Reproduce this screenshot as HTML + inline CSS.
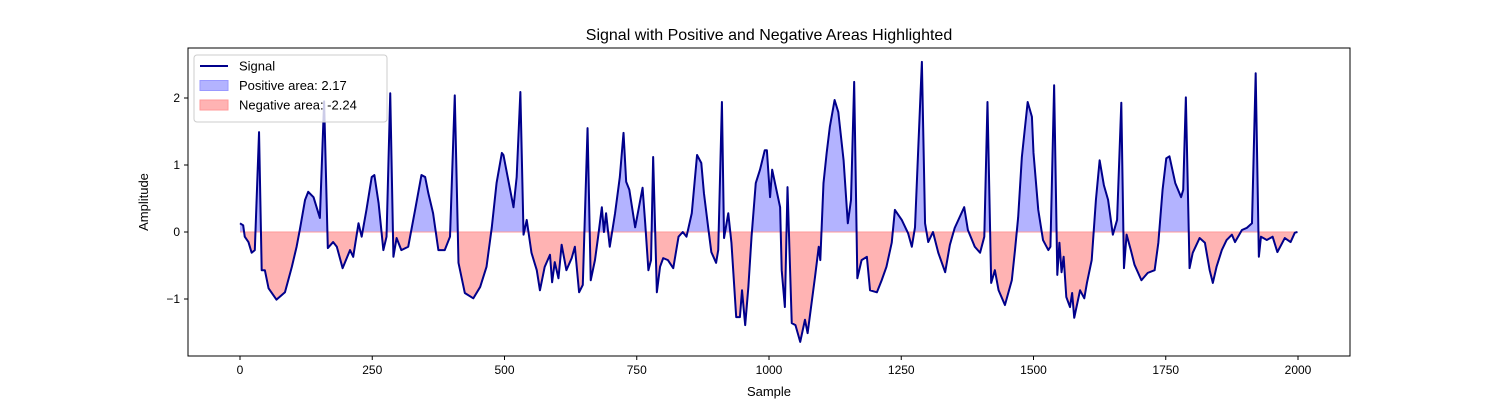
<!DOCTYPE html>
<html><head><meta charset="utf-8"><style>
body{margin:0;background:#fff;}
svg text{font-family:"Liberation Sans","DejaVu Sans",sans-serif;fill:#000;}
</style></head><body>
<svg id="chart" width="1500" height="400" xmlns="http://www.w3.org/2000/svg">
<rect width="1500" height="400" fill="#fff"/>
<defs>
<clipPath id="clipPos"><rect x="188" y="48" width="1162" height="184"/></clipPath>
<clipPath id="clipNeg"><rect x="188" y="232" width="1162" height="124"/></clipPath>
</defs>
<g id="fills"></g>
<g id="line"></g>
<g id="axes"></g>
</svg>
<script>
const sampleIdx=[0,6,9,16,22,28,36,41,47,54,69,85,98,107,113,123,129,139,151,159,166,176,183,194,208,214,224,230,239,249,254,262,271,277,284,290,296,305,318,331,343,350,356,365,375,387,397,406,413,425,441,454,466,476,485,495,498,507,517,523,530,536,542,551,561,567,576,586,590,595,602,608,617,627,633,641,648,657,663,671,677,684,688,692,699,709,718,725,730,736,747,761,766,772,777,781,788,794,800,809,819,829,837,844,854,864,872,877,885,891,900,904,911,915,923,929,938,945,949,955,961,967,975,983,992,996,1002,1006,1014,1021,1024,1030,1035,1043,1050,1059,1068,1073,1087,1094,1097,1103,1109,1115,1124,1131,1141,1149,1155,1161,1167,1175,1185,1191,1204,1213,1222,1232,1238,1251,1263,1270,1276,1282,1289,1295,1301,1310,1320,1333,1342,1351,1369,1376,1389,1399,1407,1413,1420,1427,1434,1446,1459,1465,1471,1478,1484,1489,1497,1500,1509,1518,1528,1532,1539,1545,1549,1553,1557,1562,1569,1573,1577,1588,1596,1601,1610,1618,1625,1633,1641,1650,1658,1666,1671,1676,1684,1691,1704,1716,1729,1736,1744,1751,1757,1768,1779,1783,1788,1795,1801,1814,1824,1833,1839,1846,1856,1865,1875,1881,1894,1903,1913,1920,1926,1930,1941,1952,1961,1975,1986,1994,1999];
const signalVals=[0.13,0.1,-0.07,-0.15,-0.31,-0.27,1.49,-0.57,-0.57,-0.84,-1.01,-0.9,-0.52,-0.22,0.03,0.48,0.6,0.52,0.21,1.95,-0.24,-0.15,-0.22,-0.54,-0.27,-0.37,0.13,-0.07,0.33,0.82,0.85,0.43,-0.27,-0.07,2.07,-0.37,-0.09,-0.27,-0.22,0.33,0.85,0.82,0.58,0.28,-0.27,-0.27,-0.07,2.04,-0.46,-0.91,-0.99,-0.82,-0.52,0.07,0.73,1.18,1.15,0.78,0.37,0.82,2.09,-0.04,0.18,-0.31,-0.57,-0.87,-0.52,-0.34,-0.75,-0.45,-0.69,-0.19,-0.57,-0.39,-0.22,-0.9,-0.79,1.55,-0.72,-0.42,-0.07,0.37,0,0.28,-0.22,0.28,0.82,1.48,0.75,0.63,0.07,0.66,0.13,-0.57,-0.42,1.12,-0.9,-0.52,-0.39,-0.42,-0.54,-0.07,0,-0.07,0.28,1.15,1.03,0.58,0.07,-0.3,-0.46,-0.27,1.94,-0.09,0.28,-0.16,-1.27,-1.27,-0.87,-1.39,-0.82,-0.07,0.73,0.93,1.22,1.22,0.52,0.93,0.63,0.37,-0.57,-1.12,0.67,-1.36,-1.39,-1.64,-1.31,-1.51,-0.67,-0.22,-0.42,0.73,1.18,1.57,1.97,1.79,1.07,0.13,0.48,2.24,-0.69,-0.42,-0.37,-0.87,-0.9,-0.72,-0.52,-0.16,0.33,0.18,-0.02,-0.22,0.07,1.22,2.54,0.13,-0.15,0,-0.31,-0.6,-0.19,0.06,0.37,0.03,-0.22,-0.31,-0.07,1.94,-0.76,-0.57,-0.87,-1.09,-0.72,-0.27,0.22,1.12,1.57,1.94,1.72,1.18,0.33,-0.12,-0.27,-0.22,2.19,-0.64,-0.16,-0.6,-0.37,-0.97,-1.12,-0.91,-1.28,-0.87,-0.99,-0.76,-0.42,0.48,1.07,0.7,0.48,-0.04,0.18,1.93,-0.54,-0.04,-0.27,-0.49,-0.72,-0.61,-0.57,-0.16,0.63,1.1,1.13,0.73,0.52,0.63,2.01,-0.54,-0.31,-0.09,-0.16,-0.57,-0.76,-0.52,-0.27,-0.12,-0.04,-0.15,0.03,0.06,0.13,2.37,-0.37,-0.07,-0.12,-0.07,-0.3,-0.09,-0.15,-0.01,0.0];
const xTicks=[0,250,500,750,1000,1250,1500,1750,2000];
const yTicks=[-1,0,1,2];
const legendLabels=["Signal","Positive area: 2.17","Negative area: -2.24"];

const NS="http://www.w3.org/2000/svg";
const X0=188,X1=1350,Y0=48,Y1=356;
const xs=s=>240+(s-0)*(1298-240)/2000;
const ys=v=>232-v*67;
function mk(tag,attrs,parent){const e=document.createElementNS(NS,tag);for(const k in attrs)e.setAttribute(k,attrs[k]);parent.appendChild(e);return e;}
const fills=document.getElementById('fills'),lineG=document.getElementById('line'),axes=document.getElementById('axes');
let pts=sampleIdx.map((s,i)=>xs(s).toFixed(2)+","+ys(signalVals[i]).toFixed(2));
let poly="M"+xs(sampleIdx[0])+","+ys(0)+" L"+pts.join(" L")+" L"+xs(sampleIdx[sampleIdx.length-1])+","+ys(0)+"Z";
const pos=mk('path',{d:poly,fill:'#b3b3ff','clip-path':'url(#clipPos)'},fills);


const neg=mk('path',{d:poly,fill:'#ffb3b3','clip-path':'url(#clipNeg)'},fills);


const zl=mk('line',{x1:xs(0),x2:xs(1999),y1:ys(0),y2:ys(0),stroke:'#ff9999','stroke-width':1},fills);


const sig=mk('polyline',{points:pts.join(" "),fill:'none',stroke:'#00008b','stroke-width':2,'stroke-linejoin':'round'},lineG);


const frame=mk('rect',{x:X0,y:Y0,width:X1-X0,height:Y1-Y0,fill:'none',stroke:'#000','stroke-width':1},axes);


xTicks.forEach(t=>{const x=xs(t);
 mk('line',{x1:x,x2:x,y1:Y1,y2:Y1+4,stroke:'#000'},axes);
 const tx=mk('text',{x:x,y:Y1+18,'text-anchor':'middle','font-size':12},axes);tx.textContent=t;
 
 });
yTicks.forEach(t=>{const y=ys(t);
 mk('line',{x1:X0-4,x2:X0,y1:y,y2:y,stroke:'#000'},axes);
 const tx=mk('text',{x:X0-8,y:y+4,'text-anchor':'end','font-size':12},axes);tx.textContent=t<0?'\u2212'+(-t):t;
 
 });
const title=mk('text',{x:769,y:40,'text-anchor':'middle','font-size':16},axes);title.textContent="Signal with Positive and Negative Areas Highlighted";


const xl=mk('text',{x:769,y:396,'text-anchor':'middle','font-size':13},axes);xl.textContent="Sample";


const yl=mk('text',{x:0,y:0,'text-anchor':'middle','font-size':13,transform:'translate(148,202) rotate(-90)'},axes);yl.textContent="Amplitude";


const lg=mk('g',{},axes);


mk('rect',{x:194,y:55,width:193,height:67,rx:3,fill:'rgba(255,255,255,0.8)',stroke:'#ccc'},lg);
legendLabels.forEach((l,i)=>{const y=66+i*19.5;
 if(i===0)mk('line',{x1:200,x2:228,y1:y,y2:y,stroke:'#00008b','stroke-width':2},lg);
 else mk('rect',{x:200,y:y-5,width:28,height:10,fill:i===1?'#b3b3ff':'#ffb3b3',stroke:i===1?'#9999ff':'#ff9999'},lg);
 const t=mk('text',{x:239,y:y+4.5,'font-size':13},lg);t.textContent=l;
 
 });
</script>
</body></html>
